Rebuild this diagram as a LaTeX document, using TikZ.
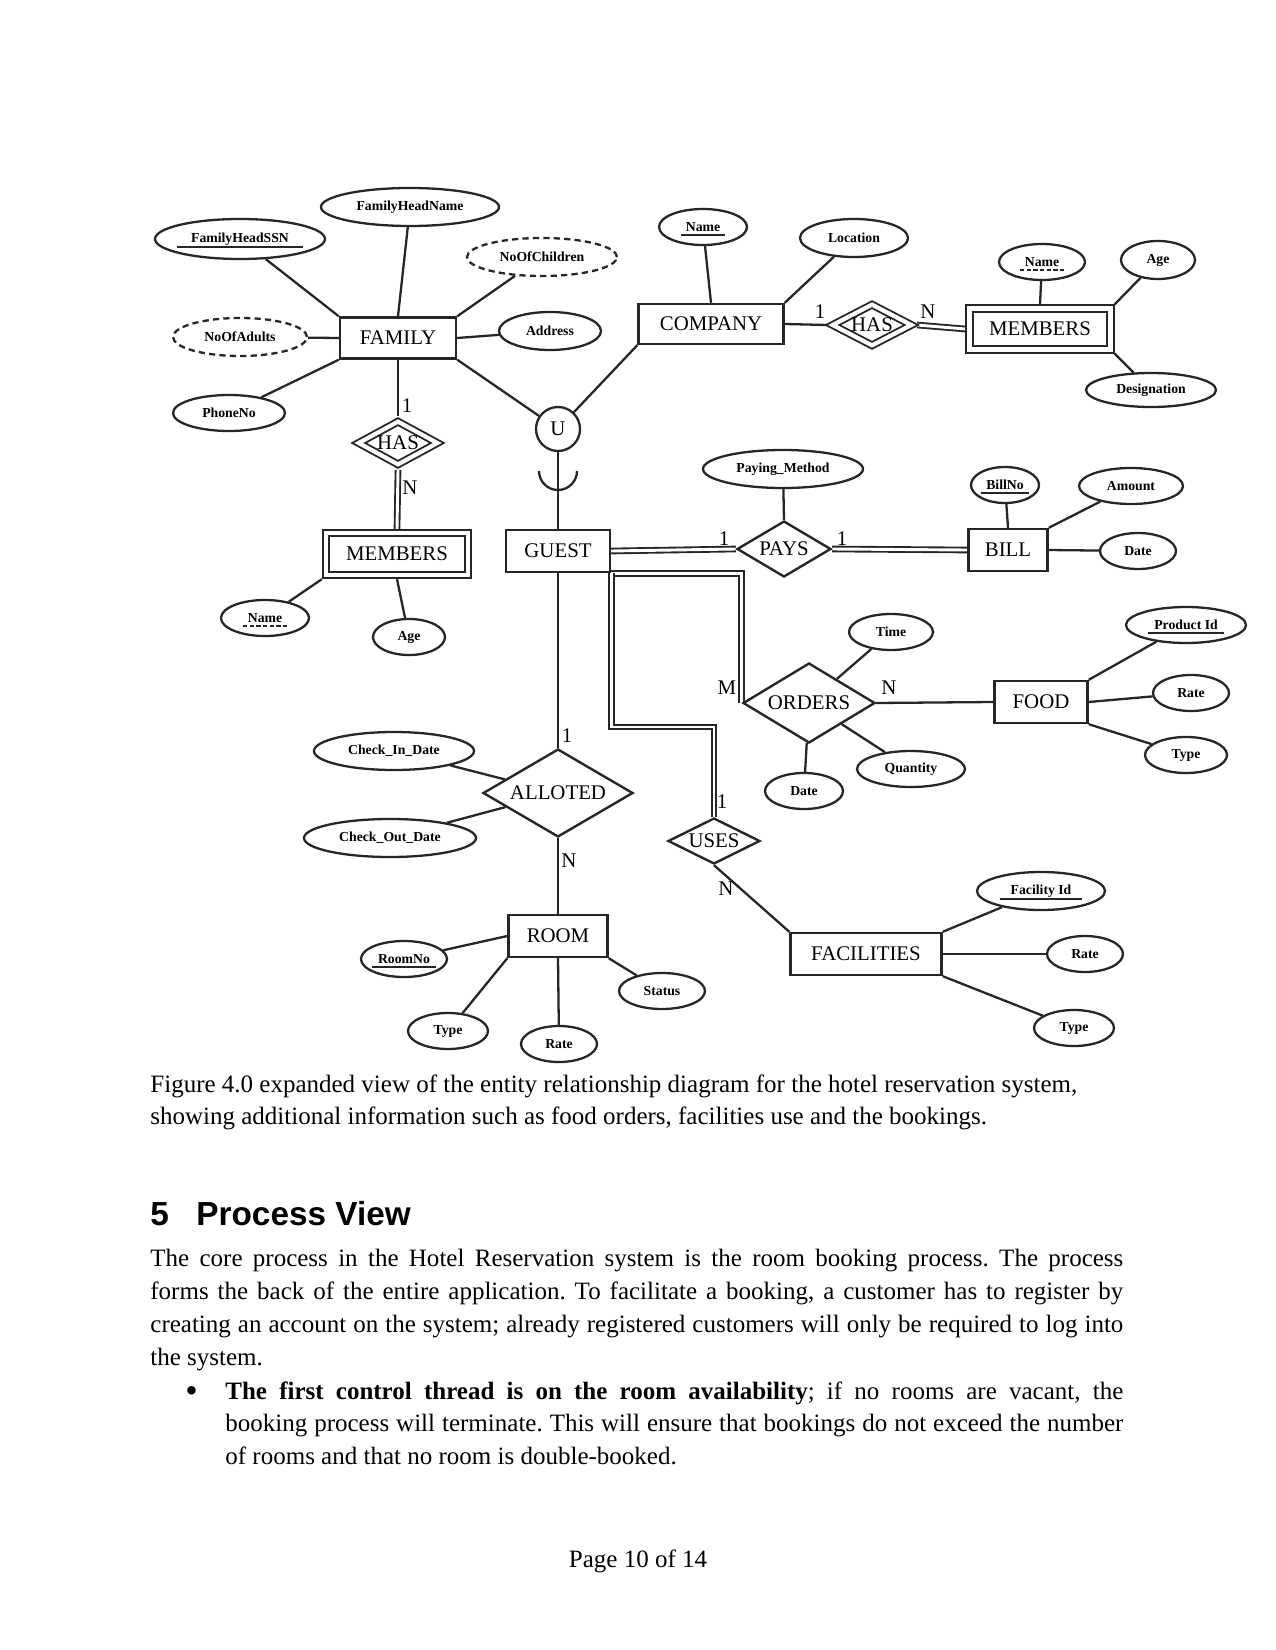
\documentclass[tikz,border=0pt]{standalone}
\usepackage{fontspec}
\setmainfont{Liberation Serif}
\newfontfamily\hdfont{Liberation Sans}
\usetikzlibrary{shapes.geometric,backgrounds}
\newlength\pxl
\setlength\pxl{0.48pt}
\newcommand\erEnt{\fontsize{10}{12}\selectfont}
\newcommand\erAttr{\bfseries\fontsize{6.6}{8}\selectfont}
\newcommand\erBody{\fontsize{12}{14}\selectfont}
\newcommand\erHead{\hdfont\bfseries\fontsize{16}{19}\selectfont}
\newcommand\keyul[2]{\draw[keyline] ([xshift=-#2*\pxl,yshift=-8*\pxl]#1.center) -- ([xshift=#2*\pxl,yshift=-8*\pxl]#1.center);}
\newcommand\wkul[2]{\draw[wkline] ([xshift=-#2*\pxl,yshift=-8*\pxl]#1.center) -- ([xshift=#2*\pxl,yshift=-8*\pxl]#1.center);}
\colorlet{erink}{black!85}
\tikzset{
 sz/.style 2 args={minimum width=#1*\pxl, minimum height=#2*\pxl},
 ent/.style={draw=erink, line width=1.15pt, rectangle, inner sep=0pt, font=\erEnt},
 wkent/.style={ent, double, double distance=2.2pt, line width=0.9pt, outer sep=2pt},
 rel/.style={draw=erink, line width=1.15pt, diamond, inner sep=0pt},
 wkrel/.style={rel, double, double distance=2pt, line width=0.9pt, outer sep=1.9pt},
 reltxt/.style={inner sep=0pt, font=\erEnt},
 attr/.style={draw=erink, line width=1.1pt, ellipse, inner sep=0pt, font=\erAttr},
 dattr/.style={attr, dash pattern=on 3pt off 2pt},
 conn/.style={draw=erink, line width=1.1pt},
 dconn/.style={draw=erink, line width=0.9pt, double, double distance=1.4pt},
 keyline/.style={erink, line width=0.8pt},
 wkline/.style={erink, line width=0.8pt, dash pattern=on 2pt off 1.2pt},
 card/.style={inner sep=0pt, font=\erEnt},
 txt/.style={inner sep=0pt, anchor=base west, font=\erBody},
}
\frenchspacing
\begin{document}
\begin{tikzpicture}[x=0.48pt, y=-0.48pt]
\useasboundingbox (0,0) rectangle (1275,1650);

% ---------- FAMILY ----------
\node[ent, sz={116}{41}] (family) at (398,338) {FAMILY};
\node[attr, sz={178}{38}] (fhname) at (410,207) {FamilyHeadName};
\node[attr, sz={170}{40}] (fhssn) at (240,239) {FamilyHeadSSN};
\node[dattr, sz={150}{38}] (noc) at (542,257) {NoOfChildren};
\node[dattr, sz={134}{38}] (noa) at (240,337) {NoOfAdults};
\node[attr, sz={102}{38}] (addr) at (550,331) {Address};
\node[attr, sz={112}{36}] (phone) at (229,413) {PhoneNo};
\node[draw=erink, circle, line width=1.1pt, inner sep=0pt, minimum size=44*\pxl, font=\erEnt] (u) at (558,429) {U};
\node[wkrel, sz={82}{46}] (hasF) at (398,443) {};
\node[reltxt] (hasFt) at (hasF) {HAS};
\node[wkent, sz={142}{42}] (memF) at (397,554) {MEMBERS};
\node[attr, sz={88}{36}] (fmname) at (265,618) {Name};
\node[attr, sz={72}{36}] (fmage) at (409,637) {Age};

% ---------- COMPANY ----------
\node[ent, sz={145}{40}] (company) at (711,324) {COMPANY};
\node[attr, sz={88}{36}] (cname) at (703,227) {Name};
\node[attr, sz={108}{38}] (loc) at (854,238) {Location};
\node[wkrel, sz={82}{44}] (hasC) at (872,325) {};
\node[reltxt] (hasCt) at (hasC) {HAS};
\node[wkent, sz={141}{41}] (memC) at (1040,329) {MEMBERS};
\node[attr, sz={86}{36}] (mcname) at (1042,262) {Name};
\node[attr, sz={74}{38}] (mcage) at (1158,260) {Age};
\node[attr, sz={130}{34}] (desig) at (1151,390) {Designation};

% ---------- GUEST / BILL ----------
\node[ent, sz={104}{42}] (guest) at (558,551) {GUEST};
\node[rel, sz={94}{56}] (pays) at (784,549) {};
\node[reltxt] (payst) at (pays) {PAYS};
\node[attr, sz={160}{38}] (pm) at (783,469) {Paying\_Method};
\node[ent, sz={79}{42}] (bill) at (1008,550) {BILL};
\node[attr, sz={68}{36}] (billno) at (1005,485) {BillNo};
\node[attr, sz={104}{36}] (amount) at (1131,486) {Amount};
\node[attr, sz={76}{36}] (bdate) at (1138,551) {Date};

% ---------- ORDERS / FOOD ----------
\node[rel, sz={132}{80}] (orders) at (809,703) {};
\node[reltxt] (orderst) at (orders) {ORDERS};
\node[attr, sz={84}{36}] (time) at (891,632) {Time};
\node[attr, sz={108}{36}] (qty) at (911,769) {Quantity};
\node[attr, sz={78}{36}] (odate) at (804,791) {Date};
\node[ent, sz={93}{42}] (food) at (1041,702) {FOOD};
\node[attr, sz={120}{36}] (pid) at (1186,625) {Product Id};
\node[attr, sz={76}{36}] (frate) at (1191,693) {Rate};
\node[attr, sz={82}{36}] (ftype) at (1186,755) {Type};

% ---------- ALLOTED / ROOM ----------
\node[rel, sz={150}{88}] (allot) at (558,793) {};
\node[reltxt] (allott) at (allot) {ALLOTED};
\node[attr, sz={160}{38}] (cin) at (394,751) {Check\_In\_Date};
\node[attr, sz={172}{38}] (cout) at (390,838) {Check\_Out\_Date};
\node[ent, sz={99}{42}] (room) at (558,936) {ROOM};
\node[attr, sz={86}{36}] (roomno) at (404,959) {RoomNo};
\node[attr, sz={80}{36}] (rtype) at (448,1031) {Type};
\node[attr, sz={76}{36}] (rrate) at (559,1044) {Rate};
\node[attr, sz={86}{36}] (status) at (662,991) {Status};

% ---------- USES / FACILITIES ----------
\node[rel, sz={92}{46}] (uses) at (714,841) {};
\node[reltxt] (usest) at (uses) {USES};
\node[ent, sz={151}{42}] (fac) at (866,954) {FACILITIES};
\node[attr, sz={128}{38}] (fid) at (1041,891) {Facility Id};
\node[attr, sz={76}{36}] (facrate) at (1085,954) {Rate};
\node[attr, sz={80}{36}] (factype) at (1074,1028) {Type};

% ---------- key underlines ----------
\keyul{fhssn}{63}
\keyul{cname}{22}
\keyul{billno}{24}
\keyul{pid}{38}
\keyul{roomno}{32}
\keyul{fid}{41}
\wkul{mcname}{22}
\wkul{fmname}{22}

% ---------- cardinalities ----------
\node[card] (k1) at (407,406) {1};
\node[card] (k2) at (410,488) {N};
\node[card] (k3) at (820,312) {1};
\node[card] (k4) at (928,312) {N};
\node[card] (k5) at (724,539) {1};
\node[card] (k6) at (842,539) {1};
\node[card] (k7) at (727,688) {M};
\node[card] (k8) at (889,688) {N};
\node[card] (k9) at (567,736) {1};
\node[card] (k10) at (569,861) {N};
\node[card] (k11) at (722,802) {1};
\node[card] (k12) at (726,889) {N};

\coordinate (usesbend) at (guest.south east |- 0,727);
\coordinate (cupL) at (539,471);

% ---------- connectors ----------
\begin{scope}[on background layer]
\fill[white] (0,0) rectangle (1275,1650);
\draw[conn] (fhssn) -- (family.north west);
\draw[conn] (fhname) -- (family.north);
\draw[conn] (noc) -- (family.north east);
\draw[conn] (noa) -- (family.west);
\draw[conn] (addr) -- (family.east);
\draw[conn] (phone) -- (family.south west);
\draw[conn] (family.south east) -- (u);
\draw[conn] (u) -- (company.south west);
\draw[conn] (family.south) -- (hasF.north);
\draw[dconn] (hasF.south) -- (memF.north);
\draw[conn] (fmname) -- (memF.south west);
\draw[conn] (fmage) -- (memF.south);
\draw[conn] (cname) -- (company.north);
\draw[conn] (loc) -- (company.north east);
\draw[conn] (company.east) -- (hasC.west);
\draw[dconn] (hasC.east) -- (memC.west);
\draw[conn] (mcname) -- (memC.north);
\draw[conn] (mcage) -- (memC.north east);
\draw[conn] (desig) -- (memC.south east);
\draw[conn] (u) -- (guest.north);
\draw[conn] (cupL) arc[start angle=180, end angle=360, radius=19*\pxl];
\draw[dconn] (guest.east) -- (pays.west);
\draw[conn] (pm) -- (pays.north);
\draw[dconn] (pays.east) -- (bill.west);
\draw[conn] (billno) -- (bill.north);
\draw[conn] (amount) -- (bill.north east);
\draw[conn] (bdate) -- (bill.east);
\draw[dconn] (guest.south east) -| (orders.west);
\draw[conn] (time) -- (orders);
\draw[conn] (qty) -- (orders);
\draw[conn] (odate) -- (orders);
\draw[conn] (orders.east) -- (food.west);
\draw[conn] (pid) -- (food.north east);
\draw[conn] (frate) -- (food.east);
\draw[conn] (ftype) -- (food.south east);
\draw[conn] (guest.south) -- (allot.north);
\draw[conn] (cin) -- (allot);
\draw[conn] (cout) -- (allot);
\draw[conn] (allot.south) -- (room.north);
\draw[conn] (roomno) -- (room.west);
\draw[conn] (rtype) -- (room.south west);
\draw[conn] (rrate) -- (room.south);
\draw[conn] (status) -- (room.south east);
\draw[dconn] (guest.south east) -- (usesbend) -| (uses.north);
\draw[conn] (uses.south) -- (fac.north west);
\draw[conn] (fid) -- (fac.north east);
\draw[conn] (facrate) -- (fac.east);
\draw[conn] (factype) -- (fac.south east);
\end{scope}

% ---------- page text ----------
\node[txt] (cap1) at (150,1092) {Figure 4.0 expanded view of the entity relationship diagram for the hotel reservation system,};
\node[txt] (cap2) at (150,1124) {showing additional information such as food orders, facilities use and the bookings.};
\node[txt, font=\erHead] (hnum) at (150,1225) {5};
\node[txt, font=\erHead] (htitle) at (196,1225) {Process View};
\node[txt] (p1) at (150,1266) {\makebox[467pt][s]{The core process in the Hotel Reservation system is the room booking process. The process}};
\node[txt] (p2) at (150,1299) {\makebox[467pt][s]{forms the back of the entire application. To facilitate a booking, a customer has to register by}};
\node[txt] (p3) at (150,1332) {\makebox[467pt][s]{creating an account on the system; already registered customers will only be required to log into}};
\node[txt] (p4) at (150,1365) {the system.};
\node[txt, font=\fontsize{17}{18}\selectfont] (bul) at (185,1402) {\textbullet};
\node[txt] (b1) at (225,1399) {\makebox[431pt][s]{\textbf{The first control thread is on the room availability}; if no rooms are vacant, the}};
\node[txt] (b2) at (225,1431) {\makebox[431pt][s]{booking process will terminate. This will ensure that bookings do not exceed the number}};
\node[txt] (b3) at (225,1464) {of rooms and that no room is double-booked.};
\node[inner sep=0pt, anchor=base, font=\erBody] (foot) at (638,1567) {Page 10 of 14};
\end{tikzpicture}
\end{document}
